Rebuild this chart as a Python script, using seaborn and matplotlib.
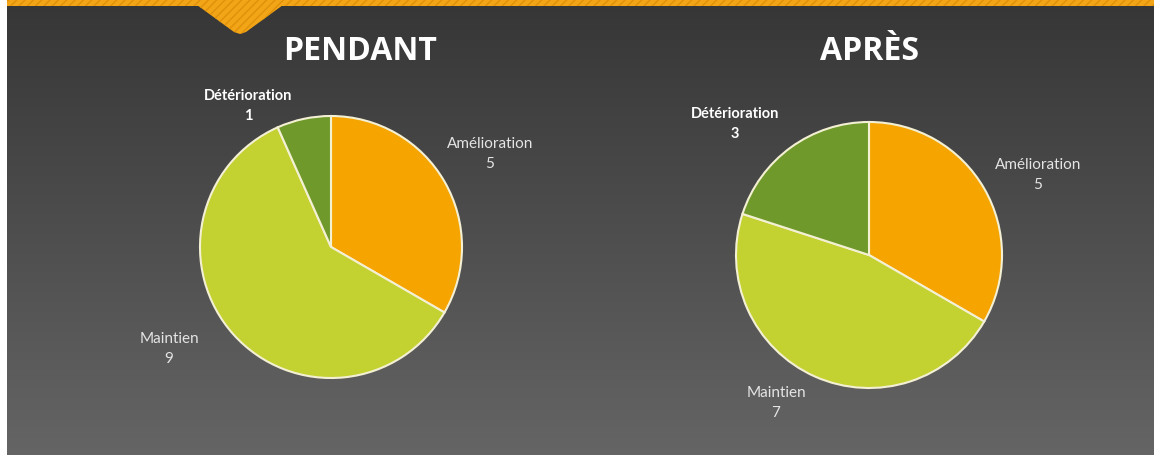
import numpy as np
import matplotlib
matplotlib.use("Agg")
import matplotlib.pyplot as plt
from matplotlib.patches import Rectangle, Polygon
import seaborn as sns

# ---- data ----
categories = ["Amélioration", "Maintien", "Détérioration"]
pendant_values = [5, 9, 1]
apres_values = [5, 7, 3]
titles = ["PENDANT", "APRÈS"]

sns.set_theme(style="white")
plt.rcParams["font.family"] = ["Lato", "DejaVu Sans"]

palette = sns.color_palette(["#F5A400", "#C3D131", "#6F9A2B"])

W, H = 1154, 468
fig = plt.figure(figsize=(W / 100, H / 100), dpi=100)

# background
bg = fig.add_axes([0, 0, 1, 1])
grad = np.linspace(0, 1, 256)[:, None]
cmap = matplotlib.colors.LinearSegmentedColormap.from_list("g", ["#363636", "#666666"])
bg.imshow(grad, aspect="auto", cmap=cmap, extent=(0, W, H, 0))
bg.set_xlim(0, W)
bg.set_ylim(H, 0)
bg.axis("off")
# white borders
bg.add_patch(Rectangle((0, 0), 7, H, color="white", lw=0))
bg.add_patch(Rectangle((0, 455), W, 13, color="white", lw=0))
# orange top strip with tab
bg.add_patch(Rectangle((7, 0), W, 6, facecolor="#F2A516", edgecolor="#E0900A",
                       hatch="////", lw=0))
bg.add_patch(Polygon([(197, 5), (234, 32), (240, 34), (246, 32), (283, 5)],
                     closed=True, facecolor="#F2A516", edgecolor="#E0900A",
                     hatch="////", lw=0))


def make_pie(cx, cy, r, values, title, tx, labels_pos):
    ax = fig.add_axes([(cx - r) / W, 1 - (cy + r) / H, 2 * r / W, 2 * r / H])
    ax.pie(values, colors=palette, startangle=90, counterclock=False,
           wedgeprops=dict(edgecolor="#f4f0d4", linewidth=1.5))
    ax.set_xlim(-1, 1)
    ax.set_ylim(-1, 1)
    ax.set_aspect("auto")
    ax.axis("off")
    fig.text(tx / W, 1 - 52 / H, title, ha="center", va="center",
             fontsize=23, fontweight="bold", color="white",
             family=["Open Sans", "DejaVu Sans"])
    for cat, val, (lx, ly) in zip(categories, values, labels_pos):
        bold = cat == "Détérioration"
        fig.text(lx / W, 1 - ly / H, f"{cat}\n{val}", ha="center", va="center",
                 fontsize=10.5 if bold else 11, linespacing=1.55,
                 fontweight="bold" if bold else "normal",
                 color="white" if bold else "#e4e4e4")


make_pie(331, 247, 131, pendant_values, titles[0], 360,
         [(490, 154), (169, 349), (248, 106)])
make_pie(869, 255, 133, apres_values, titles[1], 870,
         [(1038, 175), (776, 403), (735, 124)])

fig.savefig("out.png", dpi=100)
